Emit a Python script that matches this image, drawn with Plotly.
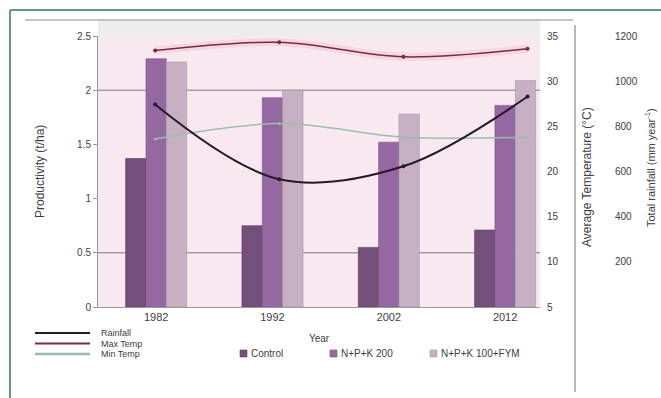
import plotly.graph_objects as go

years = ["1982", "1992", "2002", "2012"]
control = [1.37, 0.75, 0.55, 0.71]
npk200 = [2.29, 1.93, 1.52, 1.86]
npk_fym = [2.26, 2.00, 1.78, 2.09]
rainfall = [897, 566, 623, 932]
max_temp = [33.4, 34.3, 32.7, 33.6]
min_temp = [23.6, 25.3, 23.8, 23.8]
grid_vals = [0.5, 2]
bar_names = ["Control", "N+P+K 200", "N+P+K 100+FYM"]
line_names = ["Rainfall", "Max Temp", "Min Temp"]

W, H = 661, 398
L, R, T, B = 98, 11, 36, 91
PW = W - L - R
PH = H - T - B
PLOT_R = 540


def px(x):
    return (x - L) / PW


def py(y):
    return (H - B - y) / PH


font = "Liberation Sans"
tc = "#404040"
c_rain, c_max, c_min = "#26182a", "#7a2a3c", "#9dbcae"
bar_cols = ["#744f7b", "#9568a2", "#c7b0c3"]
bar_edges = ["#5e3d64", "#7d548a", "#a797a3"]

fig = go.Figure()
for name, vals, col, edge in zip(bar_names, [control, npk200, npk_fym], bar_cols, bar_edges):
    fig.add_bar(x=years, y=vals, name=name, marker=dict(color=col, line=dict(color=edge, width=0.6)), showlegend=False)

# soft pink glow under the max-temperature line
fig.add_scatter(x=years, y=max_temp, mode="lines", line=dict(color="rgba(236,150,185,0.22)", width=8, shape="spline"),
                xaxis="x2", yaxis="y2", showlegend=False, hoverinfo="skip")
fig.add_scatter(x=years, y=rainfall, name=line_names[0], mode="lines+markers", line=dict(color=c_rain, width=2, shape="spline"),
                marker=dict(size=4, color=c_rain), xaxis="x2", yaxis="y3", showlegend=False)
fig.add_scatter(x=years, y=max_temp, name=line_names[1], mode="lines+markers", line=dict(color=c_max, width=1.5, shape="spline"),
                marker=dict(size=4, color=c_max), xaxis="x2", yaxis="y2", showlegend=False)
fig.add_scatter(x=years, y=min_temp, name=line_names[2], mode="lines+markers", line=dict(color=c_min, width=1.5, shape="spline"),
                marker=dict(size=3, color=c_min), xaxis="x2", yaxis="y2", showlegend=False)

xdom = [0, px(PLOT_R)]
fig.update_layout(
    width=W, height=H,
    margin=dict(l=L, r=R, t=T, b=B),
    paper_bgcolor="white",
    plot_bgcolor="#f7e9ef",
    font=dict(family=font, size=10, color=tc),
    barmode="group", bargap=0.475, bargroupgap=0,
    xaxis=dict(domain=xdom, type="category", range=[-0.5, 3.3], showline=True, linecolor="#9a9a9a",
               ticks="", showgrid=False, automargin=False,
               title=dict(text="Year", font=dict(size=10), standoff=12),
               tickfont=dict(size=11)),
    xaxis2=dict(domain=xdom, type="category", overlaying="x", range=[-0.46, 3.1], visible=False),
    yaxis=dict(range=[0, 2.5], tickvals=[0, 0.5, 1, 1.5, 2, 2.5], ticktext=["0", "0.5", "1", "1.5", "2", "2.5"],
               showgrid=False, showline=True, linecolor="#9a9a9a", zeroline=False, ticks="outside",
               ticklen=4, tickcolor="#9a9a9a", tickfont=dict(size=10), automargin=False),
    yaxis2=dict(range=[5, 35], overlaying="y", side="right", anchor="x", tickvals=[5, 10, 15, 20, 25, 30, 35],
                showgrid=False, zeroline=False, showline=False, ticks="", tickfont=dict(size=10),
                ticklabelstandoff=6, automargin=False),
    yaxis3=dict(range=[0, 1200], overlaying="y", side="right", anchor="free", position=px(614),
                tickvals=[200, 400, 600, 800, 1000, 1200], showgrid=False, zeroline=False, showline=False,
                ticks="", tickfont=dict(size=10), automargin=False),
    showlegend=False,
)

ann = [
    dict(text="Productivity (t/ha)", x=px(40), y=py(172), textangle=-90, font=dict(size=12)),
    dict(text="Average Temperature (°C)", x=px(587), y=py(177), textangle=-90, font=dict(size=12)),
    dict(text="Total rainfall (mm year<sup>-1</sup>)", x=px(650), y=py(168), textangle=-90, font=dict(size=11)),
]
for a in ann:
    fig.add_annotation(xref="paper", yref="paper", showarrow=False, xanchor="center", yanchor="middle", **a)

# line legend (hand drawn so rows sit as close as in the reference)
for i, (name, col, wdt) in enumerate(zip(line_names, [c_rain, c_max, c_min], [2.2, 1.8, 2.4])):
    yy = 333 + i * 10.5
    fig.add_shape(type="line", xref="paper", yref="paper", x0=px(35), x1=px(90), y0=py(yy), y1=py(yy),
                  line=dict(color=col, width=wdt))
    fig.add_annotation(xref="paper", yref="paper", x=px(99), y=py(yy), text=name, showarrow=False,
                       xanchor="left", yanchor="middle", font=dict(size=9))

# bar legend
for name, col, edge, x0 in zip(bar_names, bar_cols, bar_edges, [240, 330, 430]):
    fig.add_shape(type="rect", xref="paper", yref="paper", x0=px(x0), x1=px(x0 + 7), y0=py(350), y1=py(357),
                  fillcolor=col, line=dict(color=edge, width=0.6))
    fig.add_annotation(xref="paper", yref="paper", x=px(x0 + 9), y=py(353.5), text=name, showarrow=False,
                       xanchor="left", yanchor="middle", font=dict(size=10))

for g in grid_vals:
    fig.add_shape(type="line", xref="x domain", yref="y", x0=0, x1=1, y0=g, y1=g,
                  line=dict(color="#7a7a7a", width=1), layer="below")

shapes = [
    dict(type="rect", x0=px(L), x1=px(PLOT_R), y0=py(36), y1=py(20), fillcolor="#ededed", line=dict(width=0), layer="below"),
    dict(type="line", x0=px(25), x1=px(573), y0=py(20), y1=py(20), line=dict(color="#b0b0b0", width=1.5)),
    dict(type="line", x0=px(575), x1=px(575), y0=py(25), y1=py(392), line=dict(color="#707070", width=1)),
    dict(type="line", x0=px(10), x1=px(661), y0=py(10), y1=py(10), line=dict(color="#2e7a58", width=1.5)),
    dict(type="line", x0=px(10), x1=px(10), y0=py(10), y1=py(398), line=dict(color="#2e7a58", width=1.5)),
]
for s in shapes:
    fig.add_shape(xref="paper", yref="paper", **s)

fig.write_html("out.html", post_script="document.body.style.margin='0';",
               config={"displayModeBar": False})
